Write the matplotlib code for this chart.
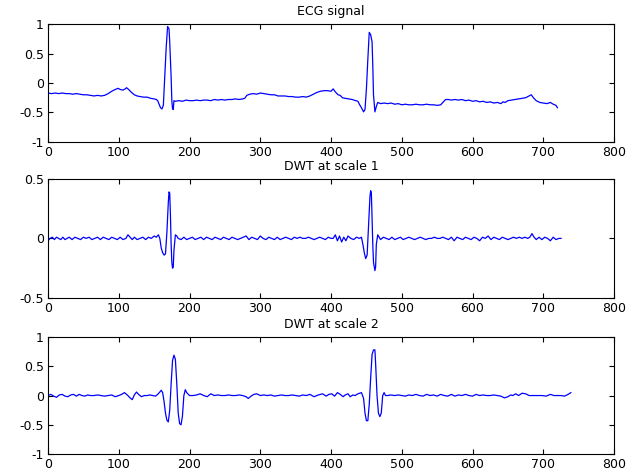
import matplotlib
matplotlib.use("Agg")
import matplotlib.pyplot as plt
from matplotlib.ticker import FormatStrFormatter

plt.rcParams['font.family'] = ['DejaVu Sans']
plt.rcParams['axes.unicode_minus'] = False

titles = ["ECG signal", "DWT at scale 1", "DWT at scale 2"]
x_ticks = [0, 100, 200, 300, 400, 500, 600, 700, 800]

# ECG signal: (sample index, amplitude)
ecg_points = [
    (0, -0.17), (5, -0.18), (10, -0.17), (15, -0.18), (20, -0.17), (25, -0.18),
    (30, -0.18), (35, -0.19), (40, -0.18), (45, -0.19), (50, -0.20), (55, -0.20),
    (60, -0.21), (65, -0.22), (70, -0.21), (75, -0.22), (80, -0.21), (85, -0.18),
    (90, -0.14), (95, -0.11), (99, -0.09), (102, -0.11), (106, -0.12), (109, -0.10),
    (111, -0.08), (114, -0.11), (118, -0.16), (122, -0.20), (126, -0.22), (130, -0.23),
    (135, -0.24), (140, -0.24), (145, -0.26), (150, -0.27), (153, -0.28), (155, -0.30),
    (157, -0.36), (159, -0.42), (161, -0.44), (163, -0.38), (165, 0.10), (167, 0.60),
    (169, 0.96), (171, 0.92), (172, 0.70), (174, 0.10), (175, -0.30), (176, -0.44),
    (177, -0.45), (178, -0.30), (180, -0.31), (185, -0.30), (190, -0.31), (195, -0.29),
    (200, -0.30), (205, -0.30), (210, -0.29), (215, -0.30), (220, -0.29), (225, -0.29),
    (230, -0.30), (235, -0.28), (240, -0.29), (245, -0.28), (250, -0.29), (255, -0.28),
    (260, -0.28), (265, -0.27), (270, -0.28), (275, -0.27), (278, -0.26), (281, -0.21),
    (285, -0.19), (290, -0.18), (295, -0.19), (300, -0.17), (305, -0.18), (310, -0.19),
    (315, -0.20), (320, -0.20), (325, -0.22), (330, -0.22), (335, -0.22), (340, -0.23),
    (345, -0.23), (350, -0.24), (355, -0.24), (360, -0.23), (365, -0.24), (370, -0.22),
    (375, -0.19), (380, -0.16), (385, -0.14), (390, -0.13), (395, -0.13), (400, -0.14),
    (403, -0.10), (406, -0.15), (410, -0.20), (413, -0.21), (416, -0.25), (420, -0.26),
    (425, -0.27), (430, -0.28), (435, -0.30), (438, -0.31), (440, -0.36), (443, -0.42),
    (446, -0.49), (448, -0.45), (450, -0.10), (452, 0.40), (454, 0.86), (456, 0.82),
    (458, 0.70), (459, 0.30), (460, -0.20), (462, -0.49), (464, -0.40), (466, -0.33),
    (470, -0.35), (475, -0.34), (480, -0.35), (485, -0.34), (490, -0.36), (495, -0.35),
    (500, -0.37), (505, -0.36), (510, -0.37), (515, -0.37), (520, -0.36), (525, -0.37),
    (530, -0.37), (535, -0.36), (540, -0.37), (545, -0.37), (550, -0.38), (555, -0.37),
    (558, -0.33), (562, -0.28), (566, -0.28), (570, -0.29), (575, -0.28), (580, -0.29),
    (585, -0.28), (590, -0.30), (595, -0.29), (600, -0.31), (605, -0.30), (610, -0.32),
    (615, -0.31), (620, -0.33), (625, -0.32), (630, -0.34), (635, -0.33), (640, -0.35),
    (643, -0.32), (646, -0.33), (650, -0.30), (655, -0.29), (660, -0.28), (665, -0.27),
    (670, -0.26), (675, -0.25), (680, -0.22), (683, -0.20), (686, -0.25), (690, -0.30),
    (695, -0.33), (700, -0.34), (705, -0.35), (710, -0.33), (714, -0.36), (718, -0.38),
    (720, -0.42),
]

# DWT at scale 1
dwt1_points = [
    (0, -0.02), (3, 0.00), (6, 0.01), (9, -0.01), (12, 0.01), (15, 0.00), (18, -0.01),
    (21, 0.01), (24, -0.01), (27, 0.00), (30, 0.01), (34, -0.01), (38, 0.01), (42, 0.00),
    (46, -0.01), (50, 0.01), (54, 0.00), (58, 0.01), (62, -0.01), (66, 0.00), (70, 0.01),
    (74, -0.01), (78, 0.01), (82, 0.00), (86, -0.01), (90, 0.01), (94, 0.00), (98, -0.01),
    (102, 0.01), (106, -0.01), (110, 0.00), (113, 0.03), (116, 0.01), (119, -0.01),
    (122, 0.01), (126, -0.01), (130, 0.00), (134, 0.01), (138, -0.01), (142, 0.01),
    (146, 0.00), (150, 0.02), (153, 0.01), (156, 0.03), (158, 0.00), (160, -0.08),
    (162, -0.12), (164, -0.14), (166, -0.13), (168, 0.05), (170, 0.30), (171, 0.39),
    (172, 0.38), (173, 0.20), (174, -0.05), (175, -0.20), (176, -0.25), (177, -0.24),
    (178, -0.10), (180, 0.03), (182, 0.02), (184, 0.00), (188, -0.01), (192, 0.01),
    (196, -0.01), (200, 0.00), (204, 0.01), (208, -0.01), (212, 0.00), (216, 0.01),
    (220, -0.01), (224, 0.01), (228, 0.00), (232, -0.01), (236, 0.01), (240, 0.00),
    (244, -0.01), (248, 0.01), (252, 0.00), (256, -0.01), (260, 0.01), (264, 0.00),
    (268, -0.01), (272, 0.00), (276, 0.01), (280, 0.02), (284, -0.01), (288, 0.01),
    (292, 0.00), (296, -0.01), (300, 0.02), (304, 0.00), (308, -0.01), (312, 0.01),
    (316, 0.00), (320, -0.01), (324, 0.01), (328, -0.01), (332, 0.00), (336, 0.01),
    (340, 0.00), (344, -0.01), (348, 0.01), (352, 0.00), (356, 0.01), (360, 0.00),
    (364, 0.00), (368, 0.01), (372, 0.00), (376, -0.01), (380, 0.00), (384, 0.01),
    (388, 0.00), (392, -0.01), (396, 0.01), (400, 0.00), (403, 0.00), (406, 0.03),
    (409, -0.02), (412, 0.02), (415, -0.03), (418, 0.01), (421, -0.02), (424, 0.02),
    (428, 0.00), (432, -0.01), (436, 0.01), (440, 0.00), (443, 0.01), (445, -0.05),
    (447, -0.12), (449, -0.17), (451, -0.14), (453, 0.10), (455, 0.35), (456, 0.40),
    (457, 0.38), (458, 0.15), (459, -0.05), (460, -0.20), (462, -0.27), (463, -0.24),
    (464, -0.05), (466, 0.03), (468, 0.01), (470, -0.01), (474, 0.01), (478, 0.00),
    (482, -0.01), (486, 0.01), (490, -0.01), (494, 0.00), (498, 0.01), (502, -0.01),
    (506, 0.00), (510, 0.01), (514, 0.00), (518, -0.01), (522, 0.00), (526, 0.01),
    (530, 0.00), (534, -0.01), (538, 0.00), (542, 0.00), (546, 0.01), (550, 0.00),
    (554, 0.00), (558, 0.01), (562, 0.00), (566, -0.01), (570, 0.01), (574, -0.02),
    (578, 0.01), (582, 0.00), (586, -0.01), (590, 0.01), (594, 0.00), (598, -0.01),
    (602, 0.01), (606, 0.00), (610, -0.02), (614, 0.01), (618, 0.00), (622, 0.02),
    (626, -0.01), (630, 0.01), (634, 0.00), (638, -0.01), (642, 0.01), (646, 0.00),
    (650, -0.01), (654, 0.00), (658, 0.01), (662, 0.00), (666, 0.01), (670, 0.00),
    (674, 0.01), (678, 0.00), (681, 0.01), (684, 0.04), (687, 0.01), (690, -0.01),
    (694, 0.01), (698, -0.01), (702, 0.01), (706, 0.00), (710, -0.02), (714, 0.01),
    (718, -0.01), (722, 0.00), (725, 0.00),
]

# DWT at scale 2
dwt2_points = [
    (0, 0.00), (4, 0.02), (8, -0.01), (12, -0.03), (16, 0.01), (20, 0.02), (24, -0.01),
    (28, -0.02), (32, 0.01), (36, 0.02), (40, -0.01), (44, 0.02), (48, 0.00), (52, -0.01),
    (56, 0.01), (60, 0.00), (65, 0.00), (70, 0.01), (75, 0.00), (80, -0.01), (85, 0.00),
    (90, 0.01), (95, -0.02), (100, 0.00), (104, 0.02), (108, 0.05), (112, 0.01),
    (116, -0.04), (119, -0.07), (122, 0.01), (125, 0.06), (128, 0.02), (132, -0.02),
    (136, 0.00), (140, 0.00), (144, 0.01), (148, 0.00), (152, -0.01), (155, 0.02),
    (158, 0.06), (160, 0.09), (162, 0.05), (164, -0.10), (166, -0.30), (168, -0.42),
    (170, -0.45), (172, -0.25), (174, 0.20), (176, 0.60), (178, 0.69), (180, 0.62),
    (182, 0.20), (184, -0.30), (186, -0.48), (188, -0.50), (190, -0.35), (192, 0.00),
    (194, 0.10), (196, 0.05), (200, 0.00), (205, 0.00), (210, 0.01), (215, 0.03),
    (220, 0.00), (225, -0.02), (230, 0.03), (235, 0.00), (240, 0.01), (245, 0.00),
    (250, 0.00), (255, 0.01), (260, 0.00), (265, 0.00), (270, 0.01), (275, 0.00),
    (280, -0.02), (283, -0.05), (287, -0.01), (291, 0.02), (295, 0.03), (300, 0.00),
    (305, 0.01), (310, 0.00), (315, 0.01), (320, -0.01), (325, 0.00), (330, 0.01),
    (335, 0.00), (340, 0.00), (345, 0.01), (350, 0.00), (355, -0.01), (360, 0.01),
    (365, 0.00), (370, 0.02), (376, -0.02), (382, 0.01), (388, 0.03), (393, -0.01),
    (397, 0.02), (401, 0.03), (405, -0.01), (409, 0.05), (413, 0.02), (417, -0.02),
    (420, 0.01), (424, 0.03), (427, -0.02), (431, 0.01), (434, 0.00), (438, 0.03),
    (443, 0.05), (446, -0.05), (448, -0.30), (450, -0.43), (452, -0.43), (454, -0.15),
    (456, 0.30), (458, 0.70), (460, 0.78), (462, 0.78), (463, 0.55), (465, 0.00),
    (467, -0.30), (469, -0.36), (471, -0.30), (473, 0.00), (475, 0.05), (477, 0.00),
    (480, 0.00), (484, 0.01), (490, 0.00), (495, 0.01), (500, 0.00), (505, -0.01),
    (510, 0.01), (515, 0.00), (520, 0.02), (525, 0.00), (530, -0.01), (535, 0.02),
    (540, 0.00), (545, 0.01), (550, -0.01), (555, 0.02), (560, 0.00), (565, -0.01),
    (570, 0.02), (575, -0.01), (580, 0.01), (585, 0.00), (590, 0.02), (595, 0.00),
    (600, -0.01), (605, 0.02), (610, 0.00), (615, 0.01), (620, 0.00), (625, 0.00),
    (630, 0.01), (635, 0.00), (640, -0.01), (645, -0.04), (650, -0.02), (654, 0.01),
    (657, 0.00), (661, 0.03), (665, 0.00), (670, 0.04), (675, 0.03), (680, 0.00),
    (686, 0.00), (692, 0.00), (698, 0.00), (704, -0.01), (710, 0.02), (715, 0.00),
    (720, 0.00), (725, 0.00), (730, -0.01), (735, 0.02), (739, 0.05),
]

series = [ecg_points, dwt1_points, dwt2_points]
y_limits = [(-1, 1), (-0.5, 0.5), (-1, 1)]
y_ticks = [[-1, -0.5, 0, 0.5, 1], [-0.5, 0, 0.5], [-1, -0.5, 0, 0.5, 1]]

fig = plt.figure(figsize=(6.36, 4.73), dpi=100)
rects = [[0.0755, 0.700, 0.890, 0.249],
         [0.0755, 0.370, 0.890, 0.252],
         [0.0755, 0.040, 0.890, 0.2475]]

for rect, pts, title, ylim, yt in zip(rects, series, titles, y_limits, y_ticks):
    xs = [p[0] for p in pts]
    ys = [p[1] for p in pts]
    ax = fig.add_axes(rect)
    ax.plot(xs, ys, color='#0000ff', lw=0.9)
    ax.set_xlim(0, 800)
    ax.set_ylim(*ylim)
    ax.set_xticks(x_ticks)
    ax.set_yticks(yt)
    ax.yaxis.set_major_formatter(FormatStrFormatter('%g'))
    ax.tick_params(direction='in', length=3.5, width=0.8, top=True, right=True,
                   labelsize=9, pad=3, colors='black')
    for sp in ax.spines.values():
        sp.set_linewidth(0.8)
    ax.set_title(title, fontsize=9, pad=6.5)

fig.savefig('out.png', dpi=100)
